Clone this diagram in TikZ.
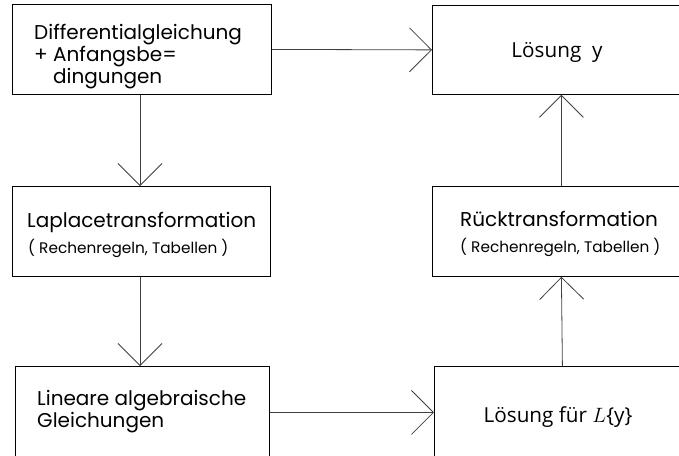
\documentclass[tikz,border=0pt]{standalone}
\usepackage{fontspec}
\setmainfont{Poppins}
\newfontfamily\segoe{Open Sans}
\usetikzlibrary{arrows.meta}
\tikzset{
  box/.style={draw=black, line width=0.8pt, minimum width=#1, inner sep=0pt, anchor=north west},
  arr/.style={draw=black!75, line width=0.8pt, -{Straight Barb[length=22pt,width=44pt,line width=0.8pt]}},
  txt/.style={anchor=base west, inner sep=0pt, font=\fontsize{20}{24}\selectfont},
  sub/.style={anchor=base west, inner sep=0pt, font=\fontsize{15.3}{18}\selectfont},
  seg/.style={anchor=base, inner sep=0pt, font=\segoe\fontsize{20.7}{24}\selectfont},
}
\begin{document}
\begin{tikzpicture}[x=1pt,y=-1pt]
\useasboundingbox (0,0) rectangle (679,455);
% boxes
\node[box=259pt, minimum height=90pt] (b1) at (12,4) {};
\node[box=258pt, minimum height=89pt] (b2) at (432,5) {};
\node[box=258pt, minimum height=90pt] (b3) at (12,186) {};
\node[box=258pt, minimum height=90pt] (b4) at (432,186) {};
\node[box=254pt, minimum height=92pt] (b5) at (15,366) {};
\node[box=256pt, minimum height=92pt] (b6) at (434,366) {};
% texts
\node[txt] (t1a) at (34,39) {Differentialgleichung};
\node[txt] (t1b) at (34,61) {+ Anfangsbe=};
\node[txt] (t1c) at (53,83) {dingungen};
\node[seg] (t2) at (557,57) {Lösung\ \ y};
\node[txt] (t3a) at (27,227) {Laplacetransformation};
\node[sub] (t3b) at (28,253) {( Rechenregeln, Tabellen )};
\node[txt] (t4a) at (460,226) {Rücktransformation};
\node[sub] (t4b) at (460,252) {( Rechenregeln, Tabellen )};
\node[txt] (t5a) at (37,405) {Lineare algebraische};
\node[txt] (t5b) at (37,427) {Gleichungen};
\node[seg] (t6) at (558,422) {Lösung für $L$\{y\}};
% connectors
\draw[arr] (b1.east) -- (b2.west);
\draw[arr] (b1.south -| 140,0) -- (b3.north -| 140,0);
\draw[arr] (b3.south -| 140,0) -- (b5.north -| 140,0);
\draw[arr] (b5.east) -- (b5.east -| b6.west);
\draw[arr] (b6.north) -- (b4.south);
\draw[arr] (b4.north) -- (b2.south);
\end{tikzpicture}
\end{document}
